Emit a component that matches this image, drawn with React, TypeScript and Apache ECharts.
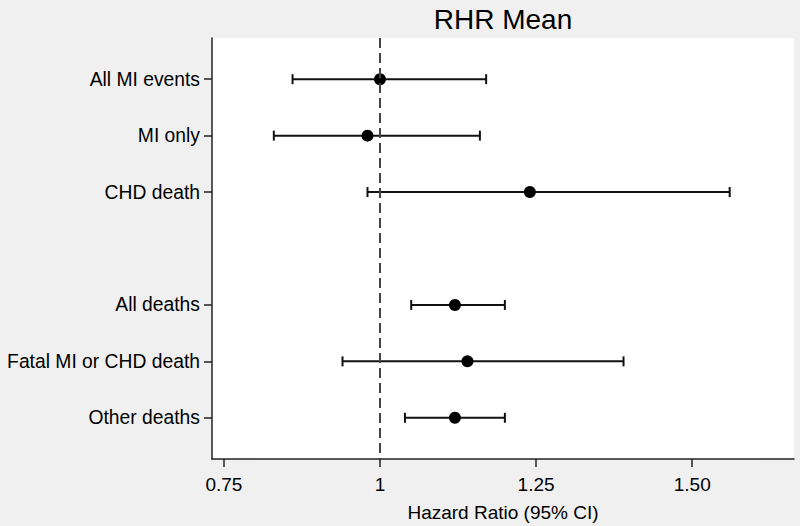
import React, { useEffect, useRef } from "react";
import * as echarts from "echarts";

const categories = ["All MI events", "MI only", "CHD death", "All deaths", "Fatal MI or CHD death", "Other deaths"];
const positions = [0, 1, 2, 4, 5, 6];
const hr = [1.0, 0.98, 1.24, 1.12, 1.14, 1.12];
const lower = [0.86, 0.83, 0.98, 1.05, 0.94, 1.04];
const upper = [1.17, 1.16, 1.56, 1.2, 1.39, 1.2];
const xTicks = [0.75, 1, 1.25, 1.5];
const xTickLabels = ["0.75", "1", "1.25", "1.50"];

const FONT = "'Liberation Sans', Arial, Helvetica, sans-serif";

export default function App() {
  const ref = useRef<HTMLDivElement>(null);
  useEffect(() => {
    if (!ref.current) return;
    const chart = echarts.init(ref.current, undefined, { renderer: "svg" });
    const errData = positions.map((p, i) => [lower[i], upper[i], p]);
    const dotData = positions.map((p, i) => [hr[i], p]);
    chart.setOption({
      animation: false,
      backgroundColor: "#f0f0f0",
      textStyle: { fontFamily: FONT },
      graphic: [
        {
          type: "text",
          x: 503,
          y: 19,
          style: {
            text: "RHR Mean",
            font: `28px ${FONT}`,
            fill: "#000",
            textAlign: "center",
            textVerticalAlign: "middle",
          },
        },
      ],
      grid: {
        left: 212,
        right: 6,
        top: 38,
        bottom: 67,
        containLabel: false,
        outerBoundsMode: "none",
        show: true,
        backgroundColor: "#ffffff",
        borderWidth: 0,
      },
      xAxis: {
        type: "value",
        min: 0.731,
        max: 1.663,
        splitLine: { show: false },
        axisLine: { show: true, onZero: false, lineStyle: { color: "#222", width: 1.5 } },
        axisTick: { show: true, length: 8, customValues: xTicks, lineStyle: { color: "#222", width: 1.5 } },
        axisLabel: {
          customValues: xTicks,
          margin: 16,
          fontSize: 19,
          color: "#000",
          fontFamily: FONT,
          formatter: (v: number) => {
            const i = xTicks.findIndex((t) => Math.abs(t - v) < 1e-6);
            return i >= 0 ? xTickLabels[i] : "";
          },
        },
        name: "Hazard Ratio (95% CI)",
        nameLocation: "middle",
        nameGap: 44,
        nameTextStyle: { fontSize: 19, color: "#000", fontFamily: FONT },
      },
      yAxis: {
        type: "value",
        inverse: true,
        min: -0.73,
        max: 6.73,
        splitLine: { show: false },
        axisLine: { show: true, onZero: false, lineStyle: { color: "#222", width: 1.5 } },
        axisTick: { show: true, length: 8, customValues: positions, lineStyle: { color: "#222", width: 1.5 } },
        axisLabel: {
          customValues: positions,
          margin: 12,
          fontSize: 19.3,
          color: "#000",
          fontFamily: FONT,
          formatter: (v: number) => {
            const i = positions.findIndex((p) => Math.abs(p - v) < 1e-6);
            return i >= 0 ? categories[i] : "";
          },
        },
      },
      series: [
        {
          type: "custom",
          data: errData,
          encode: { x: [0, 1], y: 2 },
          renderItem: (params: any, api: any) => {
            const lo = api.coord([api.value(0), api.value(2)]);
            const hi = api.coord([api.value(1), api.value(2)]);
            const cap = 5;
            const style = { stroke: "#111", lineWidth: 2 };
            return {
              type: "group",
              children: [
                { type: "line", shape: { x1: lo[0], y1: lo[1], x2: hi[0], y2: hi[1] }, style },
                { type: "line", shape: { x1: lo[0], y1: lo[1] - cap, x2: lo[0], y2: lo[1] + cap }, style },
                { type: "line", shape: { x1: hi[0], y1: hi[1] - cap, x2: hi[0], y2: hi[1] + cap }, style },
              ],
            };
          },
          z: 3,
        },
        {
          type: "scatter",
          data: dotData,
          symbol: "circle",
          symbolSize: 12,
          itemStyle: { color: "#000", opacity: 1 },
          emphasis: { disabled: true },
          z: 4,
          markLine: {
            silent: true,
            symbol: "none",
            label: { show: false },
            lineStyle: { color: "#444", width: 2, type: [10, 5], opacity: 1 },
            data: [{ xAxis: 1 }],
          },
        },
      ],
    });
    return () => chart.dispose();
  }, []);
  return <div ref={ref} style={{ position: "fixed", left: 0, top: 0, width: 800, height: 526 }} />;
}
